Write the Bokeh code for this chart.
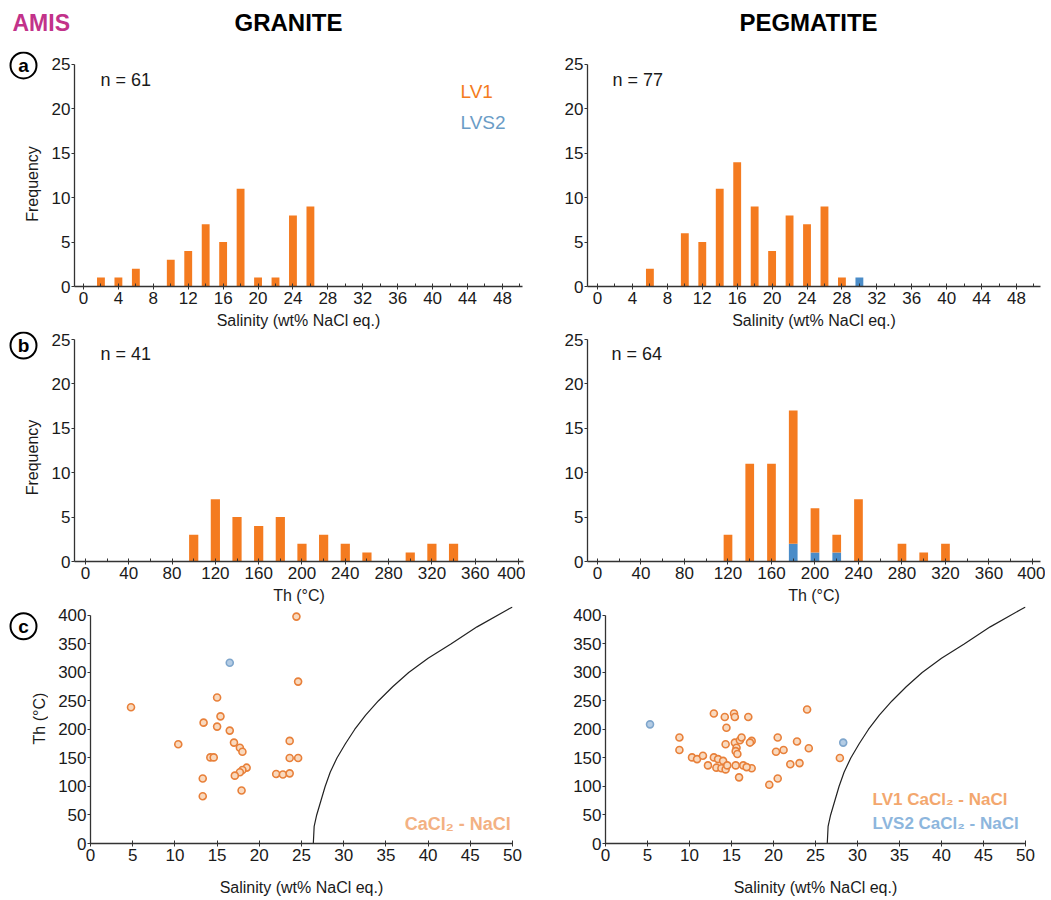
import math
from bokeh.plotting import figure
from bokeh.models import Label, FixedTicker, Range1d
from bokeh.layouts import column, row
from bokeh.embed import file_html
from bokeh.resources import INLINE
from bokeh.core.properties import value

# ---------------- data ----------------
sal_bins = [2, 4, 6, 8, 10, 12, 14, 16, 18, 20, 22, 24, 26, 28, 30]
granite_sal_lv1 = [1, 1, 2, 0, 3, 4, 7, 5, 11, 1, 1, 8, 9, 0, 0]
granite_sal_lvs2 = [0, 0, 0, 0, 0, 0, 0, 0, 0, 0, 0, 0, 0, 0, 0]
peg_sal_lv1 = [0, 0, 2, 0, 6, 5, 11, 14, 9, 4, 8, 7, 9, 1, 0]
peg_sal_lvs2 = [0, 0, 0, 0, 0, 0, 0, 0, 0, 0, 0, 0, 0, 0, 1]

th_bins = [100, 120, 140, 160, 180, 200, 220, 240, 260, 280, 300, 320, 340]
granite_th_lv1 = [3, 7, 5, 4, 5, 2, 3, 2, 1, 0, 1, 2, 2]
granite_th_lvs2 = [0, 0, 0, 0, 0, 0, 0, 0, 0, 0, 0, 0, 0]
peg_th_lv1 = [0, 3, 11, 11, 15, 5, 2, 7, 0, 2, 1, 2, 0]
peg_th_lvs2 = [0, 0, 0, 0, 2, 1, 1, 0, 0, 0, 0, 0, 0]

granite_lv1_sal = [24.4, 24.6, 15.0, 4.8, 15.4, 13.4, 15.0, 16.5, 10.4, 17.0, 17.7, 18.0, 23.6,
                   14.2, 14.6, 23.6, 24.6, 18.5, 18.0, 17.7, 17.1, 22.0, 22.8, 23.6, 13.3, 17.9, 13.3]
granite_lv1_th = [398, 284, 256, 239, 223, 212, 205, 198, 174, 177, 168, 161, 180,
                  151, 151, 150, 150, 133, 129, 125, 119, 122, 121, 123, 114, 93, 83]
granite_lvs2_sal = [16.5]
granite_lvs2_th = [317]

peg_lv1_sal = [12.9, 14.2, 15.3, 15.4, 17.0, 24.0, 14.4, 8.8, 8.8, 27.9, 20.5, 22.8, 24.2, 20.3,
               21.2, 22.0, 23.1, 19.5, 20.5, 15.9, 14.3, 15.4, 16.0, 16.2, 17.4, 17.2, 15.6, 15.5,
               15.7, 15.5, 16.4, 17.4, 16.8, 10.3, 10.9, 11.6, 12.2, 12.9, 13.4, 14.0, 13.2, 13.8,
               14.3, 14.5]
peg_lv1_th = [228, 222, 228, 222, 222, 235, 203, 186, 164, 150, 186, 179, 167, 161,
              164, 139, 141, 103, 114, 116, 174, 177, 181, 186, 180, 177, 168, 162,
              157, 137, 137, 132, 134, 151, 148, 154, 137, 151, 148, 145, 133, 132,
              130, 137]
peg_lvs2_sal = [5.3, 28.3]
peg_lvs2_th = [209, 177]

curve_sal = [26.4, 26.5, 26.8, 27.3, 27.8, 28.4, 29.2, 30.2, 31.3, 32.6, 34.1, 35.8, 37.7,
             40.0, 42.7, 45.8, 49.4, 50.0]
curve_th = [0, 30, 50, 75, 100, 125, 150, 175, 200, 225, 250, 275, 300,
            325, 350, 380, 410, 415]

sal_ticks = [0, 4, 8, 12, 16, 20, 24, 28, 32, 36, 40, 44, 48]
sal_minor = [2, 6, 10, 14, 18, 22, 26, 30, 34, 38, 42, 46, 50]
th_ticks = [0, 40, 80, 120, 160, 200, 240, 280, 320, 360, 400]
th_minor = [20, 60, 100, 140, 180, 220, 260, 300, 340, 380]
freq_ticks = [0, 5, 10, 15, 20, 25]
sc_x_ticks = [0, 5, 10, 15, 20, 25, 30, 35, 40, 45, 50]
sc_y_ticks = [0, 50, 100, 150, 200, 250, 300, 350, 400]

# ---------------- style ----------------
FONT = "Liberation Sans"
ORANGE = "#F47B20"
BLUE = "#4A8CC8"
AXIS = "#333333"
TXT = "#1a1a1a"


def make_fig(width, height, xr, yr, bl, br, bt, bb):
    p = figure(width=width, height=height, x_range=Range1d(*xr), y_range=Range1d(*yr),
               toolbar_location=None, output_backend="svg",
               min_border_left=bl, min_border_right=br, min_border_top=bt, min_border_bottom=bb)
    p.xgrid.visible = False
    p.ygrid.visible = False
    p.outline_line_color = None
    p.background_fill_color = "white"
    p.border_fill_color = "white"
    return p


def plain_fig(width, height, yr=None):
    p = figure(width=width, height=height, x_range=Range1d(0, width),
               y_range=Range1d(*(yr if yr else (0, height))),
               toolbar_location=None, output_backend="svg", min_border=0,
               x_axis_location=None, y_axis_location=None)
    p.xgrid.visible = False
    p.ygrid.visible = False
    p.outline_line_color = None
    p.background_fill_color = "white"
    p.border_fill_color = "white"
    return p


def style_axes(p, xticks, xminor, yticks, xlabel=None, ylabel=None, ybounds=None, xstand=5):
    xa = p.xaxis[0]
    ya = p.yaxis[0]
    xa.ticker = FixedTicker(ticks=xticks, minor_ticks=xminor)
    ya.ticker = FixedTicker(ticks=yticks)
    for ax in (xa, ya):
        ax.axis_line_color = AXIS
        ax.axis_line_width = 1.3
        ax.major_tick_line_color = AXIS
        ax.minor_tick_line_color = AXIS
        ax.major_label_text_font = FONT
        ax.major_label_text_font_size = "17px"
        ax.major_label_text_color = TXT
        ax.axis_label_text_font = FONT
        ax.axis_label_text_font_size = "16px"
        ax.axis_label_text_font_style = "normal"
        ax.axis_label_text_color = TXT
    xa.major_label_standoff = 2
    ya.major_label_standoff = 1
    xa.major_tick_in = 3
    xa.major_tick_out = 3
    xa.minor_tick_in = 3
    xa.minor_tick_out = 0
    ya.major_tick_in = 0
    ya.major_tick_out = 3
    ya.minor_tick_in = 0
    ya.minor_tick_out = 0
    xa.axis_label_standoff = xstand
    if xlabel:
        xa.axis_label = xlabel
    if ylabel:
        ya.axis_label = ylabel
    if ybounds:
        ya.bounds = ybounds


def add_text(p, x, y, text, color=TXT, size="18px", bold=False, align="left"):
    p.add_layout(Label(x=x, y=y, text=text, text_color=color, text_font=FONT,
                       text_font_size=size, text_font_style="bold" if bold else "normal",
                       text_align=align, text_baseline="middle"))


def letter_strip(height, frame_y, letter, ly, label=None, lab_x=32, lab_y=0):
    # the strip's frame is aligned with its row neighbours' frame; y runs downward (page pixels)
    s = plain_fig(48, height, yr=frame_y)
    s.scatter([23], [ly], marker="circle", size=26, fill_color=None,
              line_color="black", line_width=2)
    s.text([23], [ly], text=[letter], text_font=value(FONT), text_font_size="19px",
           text_font_style="bold", text_align="center", text_baseline="middle",
           text_color="black")
    if label:
        s.text([lab_x], [lab_y], text=[label], angle=math.pi / 2, text_font=value(FONT),
               text_font_size="16px", text_align="center", text_baseline="middle",
               text_color=TXT)
    return s


def hist(p, bins, lv1, lvs2, w):
    tops = [a + b for a, b in zip(lv1, lvs2)]
    p.vbar(x=bins, bottom=0, top=lvs2, width=w, fill_color=BLUE, line_color=None)
    p.vbar(x=bins, bottom=lvs2, top=tops, width=w, fill_color=ORANGE, line_color=None)


# ---------------- header ----------------
hdr = plain_fig(1045, 43)
add_text(hdr, 12, 21, "AMIS", color="#C2328A", size="23px", bold=True)
add_text(hdr, 288, 21, "GRANITE", color="black", size="24px", bold=True, align="center")
add_text(hdr, 808, 21, "PEGMATITE", color="black", size="24px", bold=True, align="center")

# ---------------- row a: salinity histograms ----------------
HA = 288
s_a = letter_strip(HA, (287, 51), "a", 65, "Frequency", 32, 184)
a_g = make_fig(477, HA, (-1.03, 50.3), (0, 26.46), 26, 3, 8, 44)
hist(a_g, sal_bins, granite_sal_lv1, granite_sal_lvs2, 0.9)
style_axes(a_g, sal_ticks, sal_minor, freq_ticks, "Salinity (wt% NaCl eq.)", ybounds=(0, 25))
add_text(a_g, 1.95, 23.3, "n = 61")
add_text(a_g, 43.2, 22.0, "LV1", color=ORANGE, size="19px")
add_text(a_g, 43.2, 18.5, "LVS2", color="#6A9CC6", size="19px")

a_p = make_fig(520, HA, (-1.15, 50.75), (0, 26.46), 62, 5, 8, 44)
hist(a_p, sal_bins, peg_sal_lv1, peg_sal_lvs2, 0.9)
style_axes(a_p, sal_ticks, sal_minor, freq_ticks, "Salinity (wt% NaCl eq.)", ybounds=(0, 25))
add_text(a_p, 1.7, 23.3, "n = 77")

# ---------------- row b: Th histograms ----------------
HB = 275
s_b = letter_strip(HB, (561, 331), "b", 345, "Frequency", 32, 457)
b_g = make_fig(477, HB, (-10.1, 404.6), (0, 25.9), 24, 2, 0, 45)
hist(b_g, th_bins, granite_th_lv1, granite_th_lvs2, 8.5)
style_axes(b_g, th_ticks, th_minor, freq_ticks, "Th (°C)", ybounds=(0, 25), xstand=5)
add_text(b_g, 13.8, 23.4, "n = 41")

b_p = make_fig(520, HB, (-9.2, 407.4), (0, 25.9), 62, 5, 0, 45)
hist(b_p, th_bins, peg_th_lv1, peg_th_lvs2, 8.0)
style_axes(b_p, th_ticks, th_minor, freq_ticks, "Th (°C)", ybounds=(0, 25), xstand=5)
add_text(b_p, 12.9, 23.4, "n = 64")

# ---------------- row c: Th vs salinity ----------------
MK_LINE = "#E8803A"
MK_FILL = "#F9D9BE"
BL_LINE = "#7FA6CC"
BL_FILL = "#B4CCE4"

HC = 292
s_c = letter_strip(HC, (845, 606), "c", 626, "Th (°C)", 39, 719)
c_g = make_fig(477, HC, (0, 50), (0, 415.7), 42, 13, 0, 53)
c_g.line(curve_sal, curve_th, line_color="#222222", line_width=1.2)
c_g.scatter(granite_lv1_sal, granite_lv1_th, marker="circle", size=7, line_width=1.6,
            line_color=MK_LINE, fill_color=MK_FILL)
c_g.scatter(granite_lvs2_sal, granite_lvs2_th, marker="circle", size=7, line_width=1.6,
            line_color=BL_LINE, fill_color=BL_FILL)
style_axes(c_g, sc_x_ticks, [], sc_y_ticks, "Salinity (wt% NaCl eq.)", ybounds=(0, 400), xstand=15)
add_text(c_g, 49.8, 35, "CaCl₂ - NaCl", color="#F3B183", size="18px", bold=True, align="right")

c_p = make_fig(520, HC, (0, 50), (0, 415.7), 80, 20, 0, 53)
c_p.line(curve_sal, curve_th, line_color="#222222", line_width=1.2)
c_p.scatter(peg_lv1_sal, peg_lv1_th, marker="circle", size=7, line_width=1.6,
            line_color=MK_LINE, fill_color=MK_FILL)
c_p.scatter(peg_lvs2_sal, peg_lvs2_th, marker="circle", size=7, line_width=1.6,
            line_color=BL_LINE, fill_color=BL_FILL)
style_axes(c_p, sc_x_ticks, [], sc_y_ticks, "Salinity (wt% NaCl eq.)", ybounds=(0, 400), xstand=15)
add_text(c_p, 31.8, 78, "LV1 CaCl₂ - NaCl", color="#F3A76E", size="17px", bold=True)
add_text(c_p, 31.8, 35, "LVS2 CaCl₂ - NaCl", color="#8DB6DD", size="17px", bold=True)

layout = column(hdr, row(s_a, a_g, a_p), row(s_b, b_g, b_p), row(s_c, c_g, c_p))

with open("out.html", "w") as f:
    f.write(file_html(layout, INLINE))
